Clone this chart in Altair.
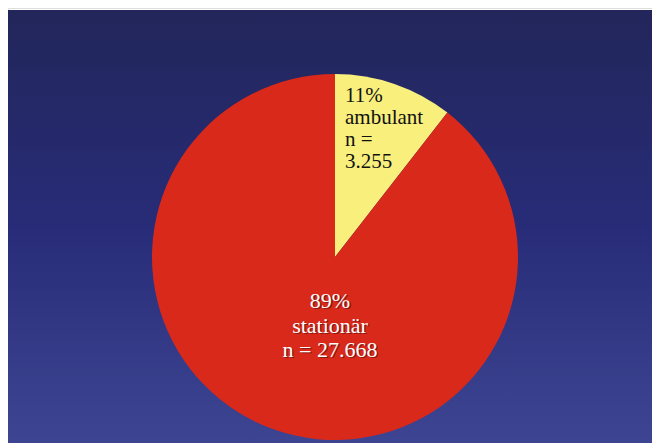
import altair as alt
import pandas as pd

categories = ["ambulant", "stationär"]
counts = [3255, 27668]
percents = ["11%", "89%"]
count_labels = ["3.255", "27.668"]
colors = ["#f8ef7d", "#d9291b"]

df = pd.DataFrame({"category": categories, "n": counts, "order": [0, 1]})

W, H = 644, 435
CX, CY, R = 327, 249, 183
SERIF = "Liberation Serif"

bg = alt.Chart(pd.DataFrame({"a": [0]})).mark_rect(
    color=alt.Gradient(
        gradient="linear",
        stops=[
            alt.GradientStop(color="#22265a", offset=0),
            alt.GradientStop(color="#282c78", offset=0.5),
            alt.GradientStop(color="#3d4592", offset=1),
        ],
        x1=0, x2=0, y1=0, y2=1,
    )
).encode(x=alt.value(0), x2=alt.value(W), y=alt.value(2), y2=alt.value(H))

pie = alt.Chart(df).mark_arc(radius=R, stroke=None).encode(
    theta=alt.Theta("n:Q", stack=True),
    order=alt.Order("order:Q"),
    color=alt.Color("category:N", scale=alt.Scale(domain=categories, range=colors), legend=None),
    x=alt.value(CX),
    y=alt.value(CY),
)

lab_small = pd.DataFrame({"t": [f"{percents[0]}\n{categories[0]}\nn =\n{count_labels[0]}"]})
lab_big = pd.DataFrame({"t": [f"{percents[1]}\n{categories[1]}\nn = {count_labels[1]}"]})

t_small = alt.Chart(lab_small).mark_text(
    font=SERIF, fontSize=21, lineBreak="\n", lineHeight=22,
    align="left", baseline="alphabetic", color="#111111"
).encode(text="t:N", x=alt.value(337), y=alt.value(94))

t_shadow = alt.Chart(lab_big).mark_text(
    font=SERIF, fontSize=22, lineBreak="\n", lineHeight=24.5,
    align="center", baseline="alphabetic", color="#6a1510", opacity=0.75
).encode(text="t:N", x=alt.value(322 + 1.3), y=alt.value(300 + 1.3))

t_big = alt.Chart(lab_big).mark_text(
    font=SERIF, fontSize=22, lineBreak="\n", lineHeight=24.5,
    align="center", baseline="alphabetic", color="#ffffff"
).encode(text="t:N", x=alt.value(322), y=alt.value(300))

chart = alt.layer(bg, pie, t_small, t_shadow, t_big).properties(
    width=W, height=H, padding=0, autosize=alt.AutoSizeParams(type="none")
).configure_view(stroke=None).configure(background="#ffffff", font="Liberation Serif")

chart.save("out.html", embed_options={"renderer": "svg", "actions": False})
